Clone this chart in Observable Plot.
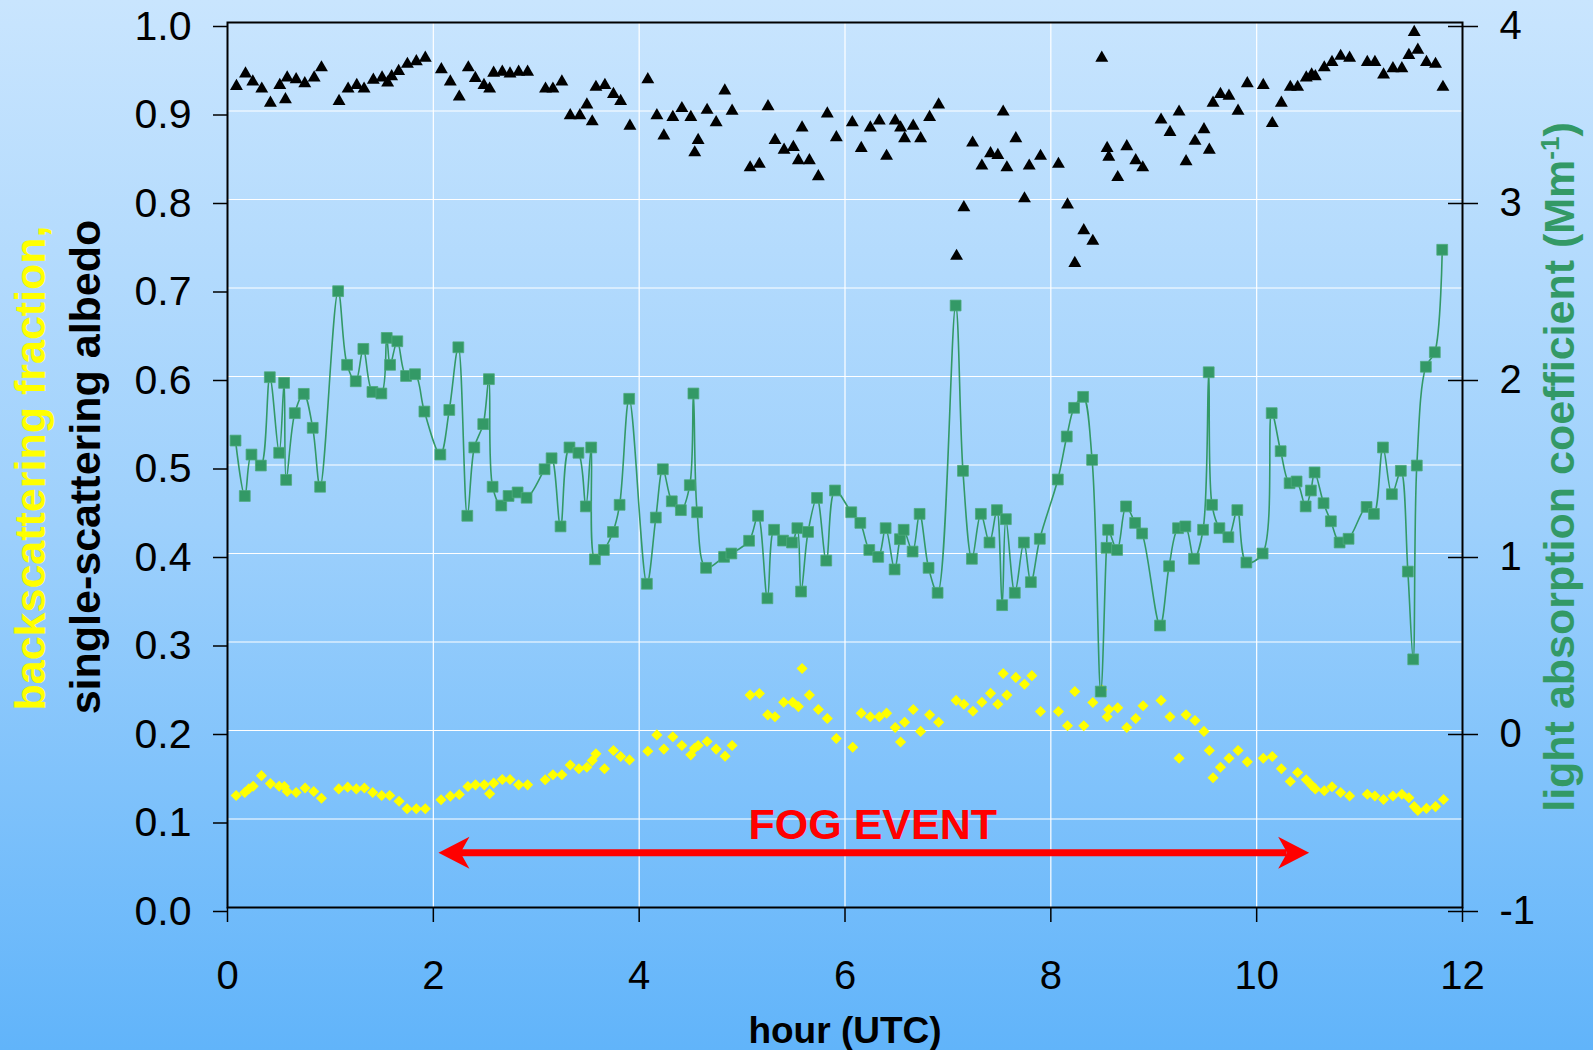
<!DOCTYPE html>
<html>
<head>
<meta charset="utf-8">
<script src="https://cdn.jsdelivr.net/npm/d3@7"></script>
<script src="https://cdn.jsdelivr.net/npm/@observablehq/plot@0.6"></script>
<style>
html, body { margin: 0; padding: 0; }
body {
  width: 1593px; height: 1050px; overflow: hidden;
  background: linear-gradient(to bottom, #c9e5fe 0%, #9dd0fc 50%, #61b4fa 100%);
  font-family: "Liberation Sans", Arial, sans-serif;
}
#chart svg { display: block; }
</style>
</head>
<body>
<div id="chart"></div>
<script>
// ---------------- data ----------------
const xTicks = [0, 2, 4, 6, 8, 10, 12];
const leftTicks = [0, 0.1, 0.2, 0.3, 0.4, 0.5, 0.6, 0.7, 0.8, 0.9, 1.0];
const rightTicks = [-1, 0, 1, 2, 3, 4];

// single-scattering albedo (black triangles, left axis)
const albedoHours = [0.087,0.175,0.246,0.333,0.417,0.508,0.563,0.58,0.667,0.751,0.842,0.913,
  1.084,1.172,1.256,1.327,1.417,1.502,1.556,1.595,1.663,1.748,1.835,1.922,
  2.078,2.165,2.252,2.34,2.408,2.492,2.547,2.586,2.67,2.745,2.829,2.916,
  3.09,3.162,3.249,3.33,3.424,3.492,3.544,3.58,3.667,3.75,3.82,3.91,
  4.084,4.172,4.24,4.327,4.415,4.502,4.54,4.573,4.66,4.748,4.832,4.903,
  5.078,5.168,5.252,5.32,5.408,5.498,5.547,5.583,5.654,5.741,5.828,5.916,
  6.071,6.158,6.246,6.333,6.404,6.488,6.54,6.579,6.663,6.735,6.822,6.91,
  7.084,7.155,7.24,7.33,7.414,7.485,7.537,7.573,7.66,7.744,7.79,7.9,
  8.074,8.162,8.233,8.32,8.408,8.495,8.547,8.563,8.65,8.738,8.825,8.893,
  9.071,9.158,9.246,9.314,9.401,9.488,9.54,9.576,9.648,9.731,9.819,9.909,
  10.064,10.152,10.24,10.327,10.398,10.482,10.534,10.57,10.657,10.732,10.816,10.903,
  11.075,11.149,11.233,11.324,11.411,11.479,11.531,11.566,11.65,11.738,11.81];
const albedo = [0.928,0.942,0.933,0.925,0.909,0.929,0.913,0.9375,0.9355,0.931,0.9375,0.949,
  0.911,0.925,0.929,0.925,0.935,0.9375,0.932,0.939,0.945,0.953,0.956,0.960,
  0.947,0.933,0.916,0.949,0.937,0.929,0.925,0.943,0.944,0.942,0.944,0.944,
  0.925,0.925,0.933,0.895,0.895,0.907,0.888,0.927,0.929,0.919,0.911,0.883,
  0.9355,0.895,0.872,0.893,0.903,0.893,0.853,0.867,0.901,0.887,0.923,0.90,
  0.836,0.840,0.905,0.867,0.856,0.859,0.844,0.881,0.844,0.826,0.897,0.870,
  0.887,0.858,0.881,0.889,0.849,0.889,0.881,0.869,0.883,0.869,0.893,0.907,
  0.736,0.791,0.864,0.838,0.852,0.850,0.899,0.836,0.869,0.801,0.838,0.849,
  0.840,0.794,0.728,0.765,0.753,0.960,0.858,0.848,0.825,0.860,0.844,0.836,
  0.890,0.876,0.899,0.843,0.866,0.879,0.856,0.909,0.919,0.917,0.90,0.931,
  0.929,0.886,0.909,0.927,0.927,0.9375,0.941,0.939,0.949,0.955,0.962,0.960,
  0.955,0.955,0.941,0.948,0.948,0.963,0.989,0.969,0.955,0.953,0.927];

// light absorption coefficient, Mm-1 (green squares, right axis)
const absorptionHours = [0.078,0.168,0.233,0.324,0.411,0.502,0.55,0.57,0.654,0.741,0.828,0.90,
  1.075,1.162,1.246,1.32,1.408,1.495,1.547,1.58,1.65,1.735,1.822,1.913,
  2.068,2.155,2.243,2.33,2.398,2.485,2.54,2.576,2.66,2.731,2.819,2.906,
  3.081,3.149,3.236,3.323,3.41,3.482,3.534,3.57,3.657,3.745,3.81,3.903,
  4.075,4.162,4.23,4.317,4.405,4.492,4.527,4.563,4.65,4.825,4.896,
  5.068,5.155,5.246,5.311,5.398,5.485,5.537,5.573,5.641,5.728,5.818,5.903,
  6.061,6.149,6.236,6.323,6.395,6.482,6.534,6.57,6.657,6.725,6.812,6.90,
  7.075,7.146,7.233,7.32,7.404,7.476,7.527,7.563,7.65,7.738,7.806,7.893,
  8.068,8.155,8.226,8.314,8.401,8.485,8.541,8.557,8.644,8.731,8.819,8.887,
  9.061,9.149,9.236,9.307,9.391,9.479,9.534,9.566,9.638,9.725,9.812,9.90,
  10.058,10.146,10.233,10.32,10.388,10.476,10.527,10.563,10.65,10.721,10.806,10.893,
  11.068,11.139,11.227,11.314,11.401,11.469,11.521,11.556,11.644,11.731,11.803];
const absorption = [1.638,1.325,1.559,1.497,1.996,1.569,1.964,1.416,1.793,1.902,1.710,1.377,
  2.482,2.066,1.973,2.156,1.913,1.904,2.218,2.066,2.199,2.003,2.013,1.802,
  1.559,1.811,2.165,1.213,1.599,1.731,1.985,1.377,1.271,1.325,1.345,1.315,
  1.476,1.538,1.153,1.599,1.569,1.266,1.599,0.967,1.020,1.122,1.275,1.874,
  0.829,1.203,1.476,1.295,1.245,1.386,1.904,1.233,0.919,0.981,1.0,
  1.072,1.213,0.747,1.134,1.073,1.062,1.143,0.785,1.122,1.314,0.960,1.356,
  1.233,1.173,1.020,0.981,1.143,0.910,1.081,1.134,1.011,1.224,0.919,0.778,
  2.401,1.467,0.970,1.224,1.062,1.245,0.708,1.194,0.778,1.062,0.838,1.083,
  1.418,1.661,1.823,1.885,1.529,0.220,1.032,1.134,1.020,1.266,1.173,1.113,
  0.593,0.928,1.143,1.153,0.970,1.134,2.024,1.275,1.143,1.092,1.245,0.949,
  1.0,1.793,1.578,1.397,1.407,1.266,1.356,1.458,1.284,1.182,1.062,1.083,
  1.263,1.224,1.599,1.335,1.467,0.898,0.402,1.497,2.055,2.137,2.716];

// backscattering fraction (yellow diamonds, left axis)
const backscatterHours = [0.084,0.168,0.207,0.249,0.33,0.417,0.502,0.553,0.58,0.667,0.754,0.838,0.913,
  1.081,1.168,1.252,1.33,1.411,1.498,1.576,1.667,1.745,1.835,1.922,
  2.075,2.165,2.252,2.336,2.41,2.495,2.547,2.586,2.67,2.745,2.829,2.916,
  3.087,3.162,3.249,3.33,3.414,3.492,3.544,3.58,3.663,3.75,3.82,3.906,
  4.084,4.172,4.24,4.327,4.415,4.502,4.537,4.573,4.66,4.748,4.835,4.903,
  5.078,5.168,5.249,5.32,5.404,5.492,5.547,5.583,5.654,5.741,5.828,5.916,
  6.075,6.158,6.246,6.333,6.404,6.488,6.54,6.579,6.663,6.735,6.822,6.91,
  7.08,7.155,7.243,7.33,7.414,7.485,7.537,7.573,7.66,7.744,7.816,7.9,
  8.074,8.162,8.233,8.32,8.408,8.495,8.547,8.563,8.65,8.738,8.825,8.896,
  9.071,9.158,9.246,9.314,9.401,9.488,9.54,9.576,9.648,9.731,9.819,9.909,
  10.064,10.152,10.24,10.327,10.398,10.482,10.534,10.57,10.657,10.732,10.816,10.903,
  11.075,11.149,11.233,11.324,11.411,11.479,11.531,11.566,11.65,11.738,11.816];
const backscatter = [0.1266,0.130,0.134,0.137,0.149,0.140,0.137,0.1367,0.131,0.130,0.135,0.131,0.1235,
  0.134,0.136,0.134,0.135,0.130,0.1266,0.1266,0.120,0.1115,0.1115,0.1115,
  0.1217,0.1258,0.1277,0.1367,0.1386,0.1386,0.1285,0.1405,0.1446,0.1446,0.1386,0.1386,
  0.1443,0.150,0.150,0.161,0.1567,0.1585,0.166,0.1736,0.1567,0.1774,0.1706,0.1668,
  0.1766,0.195,0.179,0.193,0.183,0.1725,0.180,0.183,0.1876,0.179,0.171,0.183,
  0.240,0.2418,0.2177,0.2155,0.232,0.232,0.227,0.270,0.240,0.2237,0.2136,0.191,
  0.181,0.2196,0.2155,0.2155,0.2196,0.2034,0.187,0.2094,0.2237,0.199,0.2177,0.2094,
  0.234,0.2297,0.2218,0.232,0.242,0.2297,0.2644,0.240,0.260,0.2523,0.262,0.2215,
  0.2215,0.2053,0.244,0.2053,0.2316,0.246,0.2155,0.2237,0.2256,0.2034,0.2136,0.228,
  0.234,0.2155,0.1687,0.2177,0.2113,0.199,0.1774,0.1466,0.1585,0.1687,0.1774,0.1646,
  0.1687,0.1706,0.1567,0.1424,0.1525,0.1443,0.138,0.134,0.132,0.1364,0.130,0.126,
  0.128,0.126,0.122,0.126,0.128,0.124,0.114,0.1096,0.112,0.114,0.122];

// fog event annotation (hours, left-axis value)
const fogStart = 2.05, fogEnd = 10.51, fogLevel = 0.062;
const fogLabel = "FOG EVENT", fogLabelHour = 6.27, fogLabelLevel = 0.093;

const xTitle = "hour (UTC)";
const leftTitleA = "backscattering fraction,";
const leftTitleB = "single-scattering albedo";
const rightTitle = "light absorption coefficient (Mm-1)";

// ---------------- build ----------------
const toLeft = r => (r + 1) / 5;   // right axis [-1,4] -> left axis [0,1]
const albedoRows = albedoHours.map((h, i) => ({hour: h, value: albedo[i]}));
const absRows = absorptionHours.map((h, i) => ({hour: h, value: toLeft(absorption[i])}));
const bsfRows = backscatterHours.map((h, i) => ({hour: h, value: backscatter[i]}));
const fogRows = [{start: fogStart, end: fogEnd, level: fogLevel}];

const GREEN = "#339966", RED = "#ff0000", YELLOW = "#ffff00";
const FONT = "Liberation Sans, Arial, sans-serif";

const arrowRight = {draw(ctx) { ctx.moveTo(0, 0); ctx.lineTo(-31, -16); ctx.lineTo(-22, 0); ctx.lineTo(-31, 16); ctx.closePath(); }};
const arrowLeft = {draw(ctx) { ctx.moveTo(0, 0); ctx.lineTo(31, -16); ctx.lineTo(22, 0); ctx.lineTo(31, 16); ctx.closePath(); }};

const titleStyle = {text: d => d, fontSize: 43, fontWeight: "bold", fontFamily: FONT, textAnchor: "middle", lineAnchor: "middle"};

const chart = Plot.plot({
  width: 1593, height: 1050,
  marginLeft: 227, marginRight: 131, marginTop: 22, marginBottom: 143,
  style: {background: "transparent", color: "black", fontFamily: FONT, overflow: "visible"},
  x: {domain: [0, 12]},
  y: {domain: [0, 1]},
  marks: [
    Plot.gridY(leftTicks.slice(1, -1), {stroke: "white", strokeOpacity: 1, strokeWidth: 1.2}),
    Plot.gridX(xTicks.slice(1, -1), {stroke: "white", strokeOpacity: 1, strokeWidth: 1.2}),
    Plot.dot(bsfRows, {x: "hour", y: "value", symbol: "diamond2", r: 5, fill: YELLOW}),
    Plot.dot(albedoRows, {x: "hour", y: "value", symbol: "triangle", r: 4.8, fill: "black"}),
    Plot.line(absRows, {x: "hour", y: "value", curve: "catmull-rom", stroke: GREEN, strokeWidth: 1.6}),
    Plot.dot(absRows, {x: "hour", y: "value", symbol: "square", r: 6.1, fill: GREEN, stroke: "#4daa7c", strokeWidth: 0.8}),
    Plot.ruleY(fogRows, {y: "level", x1: "start", x2: "end", insetLeft: 22, insetRight: 22, stroke: RED, strokeWidth: 7}),
    Plot.dot(fogRows, {x: "start", y: "level", symbol: arrowLeft, fill: RED}),
    Plot.dot(fogRows, {x: "end", y: "level", symbol: arrowRight, fill: RED}),
    Plot.text([fogLabel], {x: () => fogLabelHour, y: () => fogLabelLevel, text: d => d, fill: RED,
      fontSize: 43, fontWeight: "bold", fontFamily: FONT, textAnchor: "middle"}),
    Plot.frame({stroke: "black", strokeWidth: 2}),
    Plot.axisY(leftTicks, {anchor: "left", tickSize: 14, tickPadding: 22, tickFormat: d => d.toFixed(1),
      fontSize: 41, dy: 4, label: null, strokeWidth: 1.5}),
    Plot.axisY(rightTicks.map(toLeft), {anchor: "right", tickSize: 30, dx: -15, tickPadding: 22,
      tickFormat: v => String(Math.round(v * 5 - 1)), fontSize: 40, dy: 4, label: null, strokeWidth: 1.5}),
    Plot.axisX(xTicks, {anchor: "bottom", tickSize: 15, tickPadding: 38, fontSize: 40, label: null, strokeWidth: 1.5}),
    Plot.text([xTitle], {...titleStyle, frameAnchor: "bottom", dy: 124, fontSize: 37, fill: "black"}),
    Plot.text([leftTitleA], {...titleStyle, frameAnchor: "left", dx: -196, dy: 3, rotate: -90, fill: YELLOW}),
    Plot.text([leftTitleB], {...titleStyle, frameAnchor: "left", dx: -141, dy: 2, rotate: -90, fill: "black"}),
    Plot.text([rightTitle], {...titleStyle, frameAnchor: "right", dx: 98, dy: 2, rotate: -90, fill: GREEN})
  ]
});

// superscript "-1" in the right-axis title
d3.select(chart).selectAll("text").filter(function() { return this.textContent === rightTitle; }).each(function() {
  const t = d3.select(this);
  t.text(null);
  t.append("tspan").text("light absorption coefficient (Mm");
  t.append("tspan").attr("dy", -15).attr("font-size", 26).text("-1");
  t.append("tspan").attr("dy", 15).text(")");
});

document.getElementById("chart").appendChild(chart);
</script>
</body>
</html>
